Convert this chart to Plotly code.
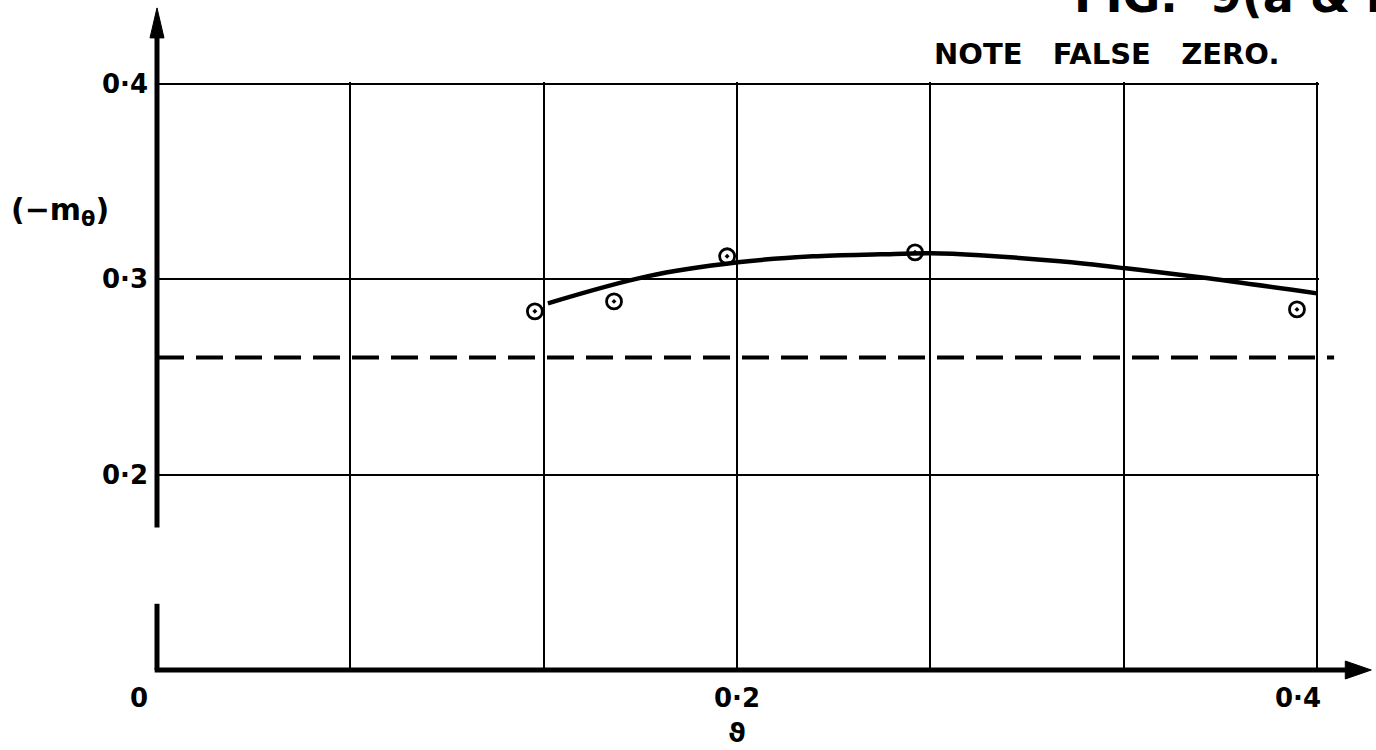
import plotly.graph_objects as go

# ---- data ----
pts_x = [0.1303, 0.1576, 0.1966, 0.2614, 0.3931]
pts_y = [0.2836, 0.2887, 0.3118, 0.3138, 0.2846]

curve_x = [0.1348, 0.1690, 0.2003, 0.2262, 0.2493, 0.2669, 0.2838, 0.3114, 0.3341, 0.3597, 0.4000]
curve_y = [0.2877, 0.3015, 0.3087, 0.3118, 0.3128, 0.3133, 0.3123, 0.3092, 0.3056, 0.3010, 0.2928]

dashed_level = 0.26

grid_x = [0.0667, 0.1333, 0.2, 0.2667, 0.3333, 0.4]
grid_y = [0.2, 0.3, 0.4]

x_tick_vals = [0, 0.2, 0.4]
x_tick_text = ["0", "0·2", "0·4"]
x_tick_shift = [-18, 0, -19]
y_tick_vals = [0.2, 0.3, 0.4]
y_tick_text = ["0·2", "0·3", "0·4"]

x_title = "ϑ"
y_title = "(−m<sub>θ</sub>)"
note_text = "NOTE\u00a0\u00a0 FALSE\u00a0\u00a0 ZERO."
fig_title = "FIG.\u00a0 9(a & b)"

FONT = "DejaVu Sans"
INK = "black"

fig = go.Figure()

fig.add_trace(go.Scatter(
    x=curve_x, y=curve_y, mode="lines",
    line=dict(color=INK, width=4.5, shape="spline", smoothing=1.0),
    showlegend=False, hoverinfo="skip"))

fig.add_trace(go.Scatter(
    x=pts_x, y=pts_y, mode="markers",
    marker=dict(symbol="circle-open-dot", size=15, color=INK,
                line=dict(color=INK, width=2.8)),
    cliponaxis=False, showlegend=False))

shapes = []
# dashed reference line
shapes.append(dict(type="line", xref="paper", yref="y", x0=0, x1=1.013,
                   y0=dashed_level, y1=dashed_level,
                   line=dict(color=INK, width=4, dash="27px,12px")))
# y axis (broken) and x axis
shapes.append(dict(type="line", xref="paper", yref="paper", x0=0, x1=0,
                   y0=0.2423, y1=1.10, line=dict(color=INK, width=5)))
shapes.append(dict(type="line", xref="paper", yref="paper", x0=0, x1=0,
                   y0=0, y1=0.1126, line=dict(color=INK, width=5)))
shapes.append(dict(type="line", xref="paper", yref="paper", x0=-0.002, x1=1.03,
                   y0=0, y1=0, line=dict(color=INK, width=5)))
# arrowheads
shapes.append(dict(type="path", xref="paper", yref="paper",
                   xsizemode="pixel", ysizemode="pixel",
                   xanchor=0, yanchor=1.126,
                   path="M -7 -30 L 0 0 L 7 -30 Z",
                   fillcolor=INK, line=dict(color=INK, width=1)))
shapes.append(dict(type="path", xref="paper", yref="paper",
                   xsizemode="pixel", ysizemode="pixel",
                   xanchor=1.045, yanchor=0,
                   path="M -26 -9 L 0 0 L -26 9 Z",
                   fillcolor=INK, line=dict(color=INK, width=1)))

annotations = []
for v, t, s in zip(x_tick_vals, x_tick_text, x_tick_shift):
    annotations.append(dict(x=v, xref="x", y=-0.0478, yref="paper", text=t,
                            showarrow=False, xshift=s, xanchor="center", yanchor="middle",
                            font=dict(family=FONT, size=26, color=INK, weight="bold")))
for v, t in zip(y_tick_vals, y_tick_text):
    annotations.append(dict(x=-0.006, xref="paper", y=v, yref="y", text=t,
                            showarrow=False, xanchor="right", yanchor="middle",
                            font=dict(family=FONT, size=26, color=INK, weight="bold")))
annotations.append(dict(x=0.2, xref="x", y=-0.1365, yref="paper", text=x_title,
                        showarrow=False, xanchor="center", yanchor="bottom",
                        font=dict(family=FONT, size=27, color=INK, weight="bold")))
annotations.append(dict(x=-0.0836, xref="paper", y=0.78, yref="paper", text=y_title,
                        showarrow=False, xanchor="center", yanchor="middle",
                        font=dict(family=FONT, size=30, color=INK, weight="bold")))
annotations.append(dict(x=0.817, xref="paper", y=1.048, yref="paper", text=note_text,
                        showarrow=False, xanchor="center", yanchor="middle",
                        font=dict(family=FONT, size=29, color=INK, weight="bold")))
annotations.append(dict(x=(1070 - 157) / 1160, xref="paper", y=1.146, yref="paper",
                        text=fig_title, showarrow=False, xanchor="left", yanchor="middle",
                        font=dict(family=FONT, size=46, color=INK, weight="bold")))

fig.update_layout(
    width=1376, height=750,
    margin=dict(l=157, r=57, t=82, b=80),
    paper_bgcolor="white", plot_bgcolor="white",
    shapes=shapes, annotations=annotations,
    showlegend=False,
    xaxis=dict(range=[0, 0.4007], tickvals=grid_x, showticklabels=False, ticks="",
               showgrid=True, gridcolor=INK, gridwidth=2, zeroline=False,
               showline=False, fixedrange=True),
    yaxis=dict(range=[0.1, 0.401], tickvals=grid_y, showticklabels=False, ticks="",
               showgrid=True, gridcolor=INK, gridwidth=2, zeroline=False,
               showline=False, fixedrange=True),
)

fig.write_html("out.html", config=dict(displayModeBar=False))
